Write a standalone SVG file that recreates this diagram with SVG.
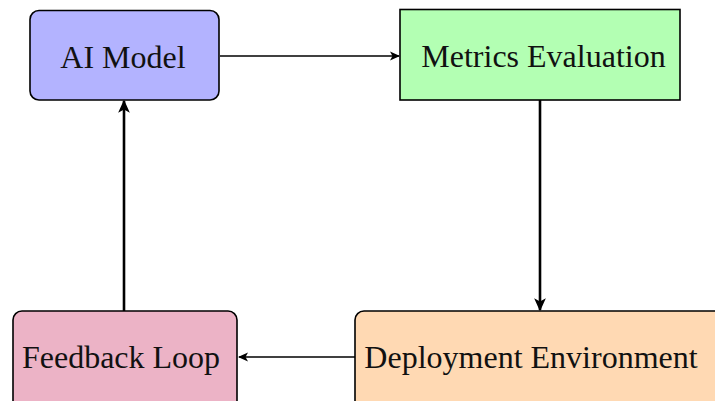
<svg xmlns="http://www.w3.org/2000/svg" width="715" height="401" viewBox="0 0 715 401">
<style>
.box{stroke:#000;stroke-width:1.6}
.lbl{font-family:"Liberation Serif","Times New Roman",serif;font-size:32px;fill:#111;text-anchor:middle}
.thin{stroke:#000;stroke-width:1.4;fill:none}
.thick{stroke:#000;stroke-width:2.6;fill:none}
</style>
<defs>
<marker id="ah" viewBox="0 0 10 10" refX="9" refY="5" markerWidth="10" markerHeight="10" markerUnits="userSpaceOnUse" orient="auto">
<path d="M0,0.5 L10,5 L0,9.5 L2.5,5 Z" fill="#000"/>
</marker>
<marker id="ahk" viewBox="0 0 10 10" refX="9" refY="5" markerWidth="5" markerHeight="5" orient="auto">
<path d="M0,0.5 L10,5 L0,9.5 L2.5,5 Z" fill="#000"/>
</marker>
</defs>
<rect width="715" height="401" fill="#fff"/>
<g id="edges">
<line class="thin" x1="220" y1="56" x2="399" y2="56" marker-end="url(#ah)"/>
<line class="thick" x1="540" y1="100" x2="540" y2="310" marker-end="url(#ahk)"/>
<line class="thin" x1="355" y1="357" x2="239" y2="357" marker-end="url(#ah)"/>
<line class="thick" x1="124" y1="311" x2="124" y2="101" marker-end="url(#ahk)"/>
</g>
<g id="ai-model">
<rect class="box" x="30" y="10.5" width="189" height="89.5" rx="9" fill="#b3b3ff"/>
<text class="lbl" x="123" y="68">AI Model</text>
</g>
<g id="metrics-evaluation">
<rect class="box" x="400" y="9.5" width="280" height="90.5" fill="#b3ffb3"/>
<text class="lbl" x="543.5" y="67">Metrics Evaluation</text>
</g>
<g id="deployment-environment">
<rect class="box" x="355" y="311" width="380" height="100" rx="9" fill="#ffd9b3"/>
<text class="lbl" x="531" y="368">Deployment Environment</text>
</g>
<g id="feedback-loop">
<rect class="box" x="13" y="311" width="224" height="100" rx="9" fill="#ecb3c6"/>
<text class="lbl" x="121" y="368">Feedback Loop</text>
</g>
</svg>
